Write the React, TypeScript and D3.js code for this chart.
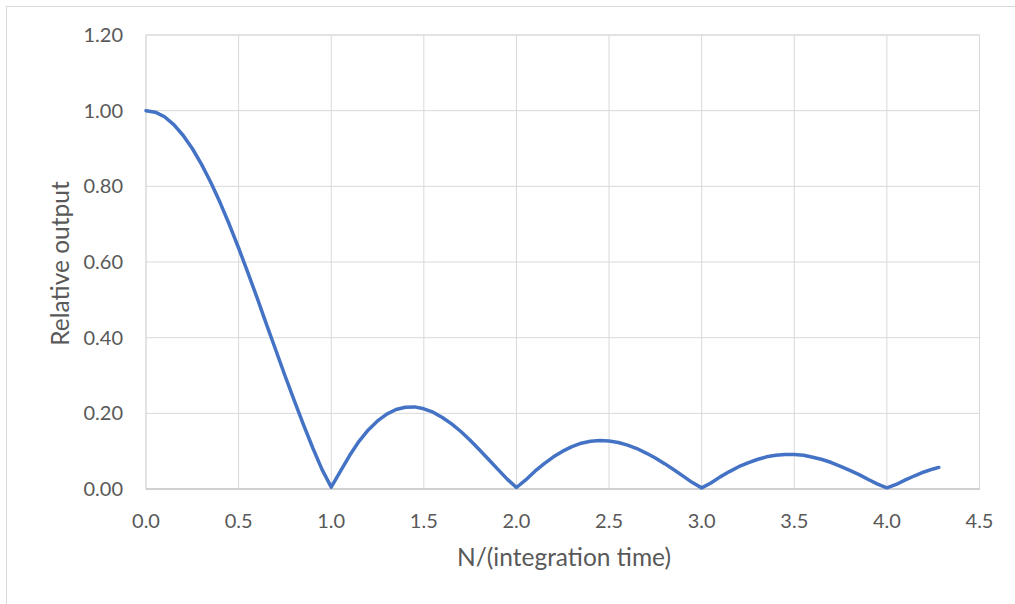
import React from "react";
import * as d3 from "d3";

const xValues: number[] = [
  0, 0.05, 0.1, 0.15, 0.2, 0.25, 0.3, 0.35, 0.4, 0.45,
  0.5, 0.55, 0.6, 0.65, 0.7, 0.75, 0.8, 0.85, 0.9, 0.95,
  1.0, 1.05, 1.1, 1.15, 1.2, 1.25, 1.3, 1.35, 1.4, 1.45,
  1.5, 1.55, 1.6, 1.65, 1.7, 1.75, 1.8, 1.85, 1.9, 1.95,
  2.0, 2.05, 2.1, 2.15, 2.2, 2.25, 2.3, 2.35, 2.4, 2.45,
  2.5, 2.55, 2.6, 2.65, 2.7, 2.75, 2.8, 2.85, 2.9, 2.95,
  3.0, 3.05, 3.1, 3.15, 3.2, 3.25, 3.3, 3.35, 3.4, 3.45,
  3.5, 3.55, 3.6, 3.65, 3.7, 3.75, 3.8, 3.85, 3.9, 3.95,
  4.0, 4.05, 4.1, 4.15, 4.2, 4.25, 4.28,
];

const relativeOutput: number[] = [
  1.0, 0.996, 0.984, 0.963, 0.935, 0.9, 0.858, 0.81, 0.757, 0.699,
  0.637, 0.572, 0.505, 0.436, 0.368, 0.3, 0.234, 0.17, 0.109, 0.052,
  0.005, 0.047, 0.089, 0.126, 0.156, 0.18, 0.198, 0.21, 0.216, 0.217,
  0.212, 0.203, 0.189, 0.172, 0.152, 0.129, 0.104, 0.078, 0.052, 0.026,
  0.004, 0.024, 0.047, 0.067, 0.085, 0.1, 0.112, 0.121, 0.126, 0.128,
  0.127, 0.123, 0.116, 0.107, 0.095, 0.082, 0.067, 0.051, 0.034, 0.017,
  0.003, 0.016, 0.032, 0.046, 0.059, 0.069, 0.078, 0.085, 0.089, 0.091,
  0.091, 0.089, 0.084, 0.078, 0.07, 0.06, 0.049, 0.038, 0.025, 0.013,
  0.003, 0.012, 0.024, 0.035, 0.045, 0.053, 0.057,
];

const xTicks: number[] = [0, 0.5, 1.0, 1.5, 2.0, 2.5, 3.0, 3.5, 4.0, 4.5];
const yTicks: number[] = [0, 0.2, 0.4, 0.6, 0.8, 1.0, 1.2];

const xTitle = "N/(integration time)";
const yTitle = "Relative output";

export default function App() {
  const W = 1015;
  const H = 604;
  const left = 146;
  const right = 979.5;
  const top = 35;
  const bottom = 489;

  const x = d3.scaleLinear().domain([0, 4.5]).range([left, right]);
  const y = d3.scaleLinear().domain([0, 1.2]).range([bottom, top]);

  const data = xValues.map((v, i) => [v, relativeOutput[i]] as [number, number]);
  const line = d3
    .line<[number, number]>()
    .x((d) => x(d[0]))
    .y((d) => y(d[1]));

  const font = "Lato, 'Open Sans', sans-serif";
  const textColor = "#595959";
  const gridColor = "#d9d9d9";

  return (
    <svg
      width={W}
      height={H}
      style={{ position: "fixed", left: 0, top: 0, display: "block", background: "#fff" }}
    >
      <rect x={6.5} y={6.5} width={W + 10} height={H + 10} fill="#fff" stroke="#d9d9d9" strokeWidth={1} />
      {yTicks.map((t) => (
        <line key={"gy" + t} x1={left} x2={right} y1={y(t)} y2={y(t)} stroke={gridColor} strokeWidth={1} />
      ))}
      {xTicks.map((t) => (
        <line key={"gx" + t} x1={x(t)} x2={x(t)} y1={top} y2={bottom} stroke={gridColor} strokeWidth={1} />
      ))}
      <rect x={left} y={top} width={right - left} height={bottom - top} fill="none" stroke={gridColor} strokeWidth={1} />
      <line x1={left} x2={right} y1={bottom} y2={bottom} stroke="#bfbfbf" strokeWidth={1} />
      {yTicks.map((t) => (
        <text
          key={"ty" + t}
          x={123}
          y={y(t)}
          dy="0.35em"
          textAnchor="end"
          fontFamily={font}
          fontSize={20}
          fill={textColor}
        >
          {t.toFixed(2)}
        </text>
      ))}
      {xTicks.map((t) => (
        <text
          key={"tx" + t}
          x={x(t)}
          y={521}
          dy="0.35em"
          textAnchor="middle"
          fontFamily={font}
          fontSize={20}
          fill={textColor}
        >
          {t.toFixed(1)}
        </text>
      ))}
      <path d={line(data) || ""} fill="none" stroke="#4472C4" strokeWidth={3.5} strokeLinejoin="round" strokeLinecap="round" />
      <text
        x={564}
        y={557}
        dy="0.35em"
        textAnchor="middle"
        fontFamily={font}
        fontSize={24.5}
        fill={textColor}
      >
        {xTitle}
      </text>
      <text
        transform={`translate(60, 263.5) rotate(-90)`}
        dy="0.35em"
        textAnchor="middle"
        fontFamily={font}
        fontSize={24.5}
        fill={textColor}
      >
        {yTitle}
      </text>
    </svg>
  );
}
